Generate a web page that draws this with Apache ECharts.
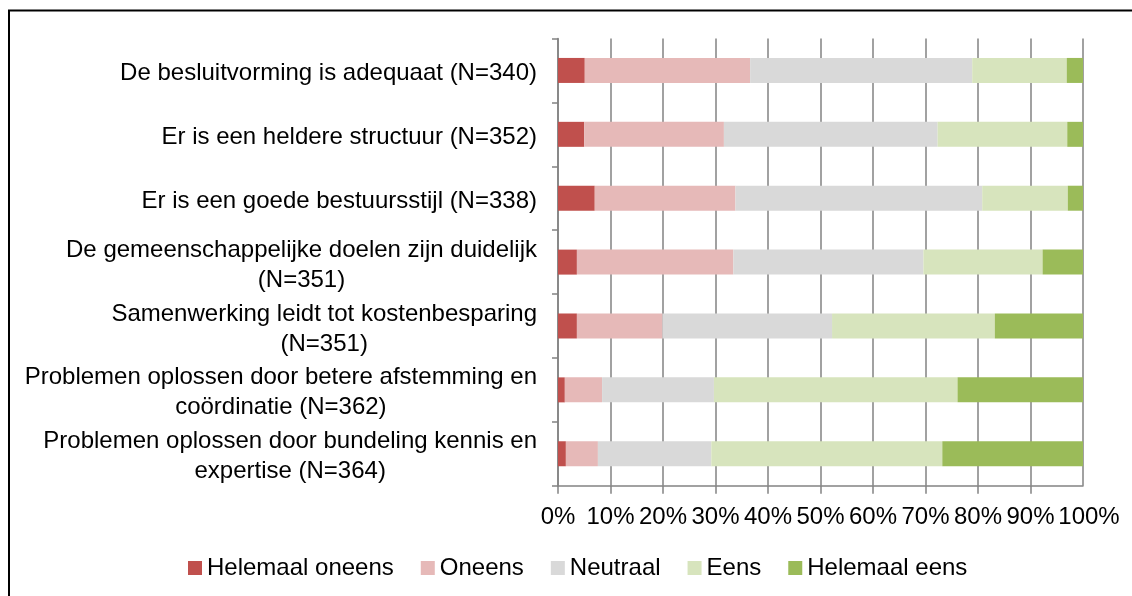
<!DOCTYPE html>
<html>
<head>
<meta charset="utf-8">
<script src="https://cdn.jsdelivr.net/npm/echarts@6/dist/echarts.min.js"></script>
<style>
html,body{margin:0;padding:0;background:#fff;}
#chart{width:1132px;height:596px;}
</style>
</head>
<body>
<div id="chart"></div>
<script>
const categories = [
  "De besluitvorming is adequaat (N=340)",
  "Er is een heldere structuur (N=352)",
  "Er is een goede bestuursstijl (N=338)",
  "De gemeenschappelijke doelen zijn duidelijk\n(N=351)",
  "Samenwerking leidt tot kostenbesparing\n(N=351)",
  "Problemen oplossen door betere afstemming en\ncoördinatie (N=362)",
  "Problemen oplossen door bundeling kennis en\nexpertise (N=364)"
];
const seriesNames = ["Helemaal oneens", "Oneens", "Neutraal", "Eens", "Helemaal eens"];
const helemaalOneens = [5.1, 5.0, 7.0, 3.6, 3.6, 1.3, 1.5];
const oneens         = [31.5, 26.6, 26.8, 29.8, 16.3, 7.1, 6.1];
const neutraal       = [42.3, 40.7, 47.0, 36.2, 32.3, 21.3, 21.6];
const eens           = [18.0, 24.7, 16.3, 22.7, 31.0, 46.4, 44.0];
const helemaalEens   = [3.1, 3.0, 2.9, 7.7, 16.8, 23.9, 26.8];
const xTicks = [0, 10, 20, 30, 40, 50, 60, 70, 80, 90, 100];

const colors = ["#C0504D", "#E6B9B8", "#D9D9D9", "#D7E4BD", "#9BBB59"];
const allData = [helemaalOneens, oneens, neutraal, eens, helemaalEens];
const FONT = "'Liberation Sans', Arial, sans-serif";
const GRID_COLOR = '#828282';
const X_MIN = xTicks[0], X_MAX = xTicks[xTicks.length - 1];

const chart = echarts.init(document.getElementById('chart'), null, {renderer: 'canvas'});
chart.setOption({
  animation: false,
  backgroundColor: '#fff',
  textStyle: {fontFamily: FONT},
  graphic: [{
    type: 'rect',
    shape: {x: 9, y: 10.5, width: 1300, height: 800},
    style: {fill: 'none', stroke: '#000', lineWidth: 2},
    z: -1
  }],
  grid: {left: 558, right: 49, top: 38.5, bottom: 110.3, containLabel: false},
  legend: {
    data: seriesNames,
    left: 183,
    top: 551,
    itemWidth: 14,
    itemHeight: 14,
    itemGap: 27,
    icon: 'rect',
    textStyle: {fontSize: 24, color: '#000', fontFamily: FONT}
  },
  xAxis: [{
    type: 'value',
    min: X_MIN,
    max: X_MAX,
    interval: 10,
    axisLine: {show: true, lineStyle: {color: GRID_COLOR, width: 1.5}},
    axisTick: {show: true, length: 8, lineStyle: {color: GRID_COLOR, width: 1.5}},
    splitLine: {show: true, lineStyle: {color: GRID_COLOR, width: 1.5}},
    axisLabel: {
      formatter: function (v) { return v === X_MAX ? '' : v + '%'; },
      fontSize: 24,
      color: '#000',
      margin: 20,
      fontFamily: FONT,
      hideOverlap: false,
      showMinLabel: true,
      showMaxLabel: false
    }
  }, {
    type: 'value',
    position: 'bottom',
    min: X_MIN,
    max: X_MAX,
    interval: 10,
    axisLine: {show: false},
    axisTick: {show: false},
    splitLine: {show: false},
    axisLabel: {
      formatter: function (v) { return v === X_MAX ? '{r|' + v + '%}' : ''; },
      fontSize: 24,
      color: '#000',
      margin: 20,
      fontFamily: FONT,
      hideOverlap: false,
      showMaxLabel: true,
      rich: {r: {fontSize: 24, color: '#000', fontFamily: FONT, padding: [0, 0, 0, 12]}}
    }
  }],
  yAxis: {
    type: 'category',
    data: categories,
    inverse: true,
    axisLine: {show: true, lineStyle: {color: GRID_COLOR, width: 1.5}},
    axisTick: {show: true, length: 6, lineStyle: {color: GRID_COLOR, width: 1.5}},
    splitLine: {show: false},
    axisLabel: {
      interval: 0,
      hideOverlap: false,
      margin: 21,
      align: 'right',
      color: '#000',
      fontSize: 24,
      fontFamily: FONT,
      lineHeight: 30,
      padding: [6, 0, 0, 0],
      formatter: function (v) {
        return v.split('\n').map(function (l) { return '{c|' + l + '}'; }).join('\n');
      },
      rich: {
        c: {align: 'center', fontSize: 24, lineHeight: 30, color: '#000', fontFamily: FONT}
      }
    }
  },
  series: seriesNames.map(function (name, i) {
    return {
      name: name,
      type: 'bar',
      stack: 'total',
      barWidth: 25,
      xAxisIndex: 0,
      itemStyle: {color: colors[i]},
      data: allData[i]
    };
  })
});
</script>
</body>
</html>
